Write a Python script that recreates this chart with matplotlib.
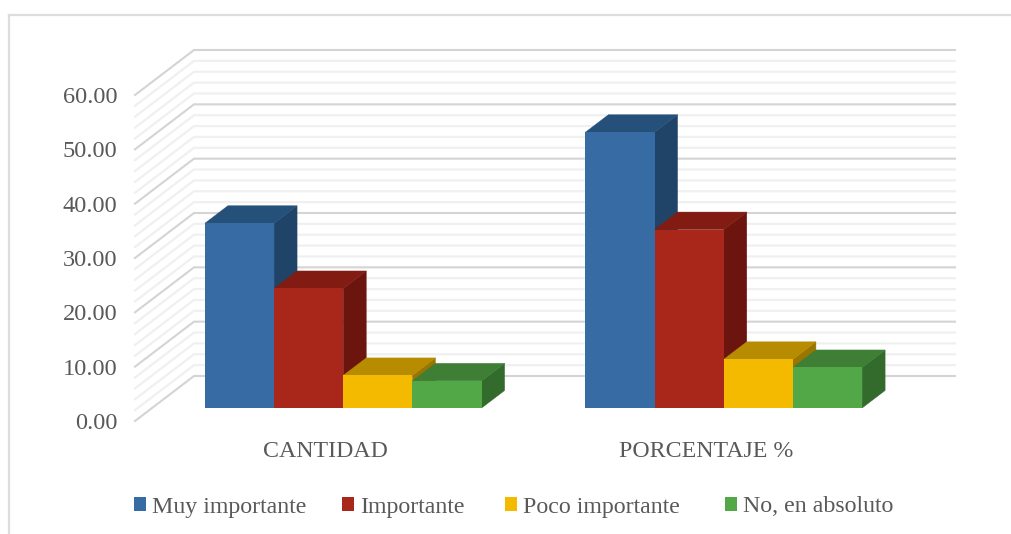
"""
Barras 3D: importancia, cantidad y porcentaje
"""
import numpy as np
import matplotlib
matplotlib.use('Agg')
import matplotlib.pyplot as plt
from matplotlib.lines import Line2D
from matplotlib.patches import Polygon
from matplotlib.transforms import Affine2D

categories = ['CANTIDAD', 'PORCENTAJE %']
series_names = ['Muy importante', 'Importante', 'Poco importante', 'No, en absoluto']
cantidad = [34, 22, 6, 5]
porcentaje = [50.75, 32.84, 8.96, 7.46]
y_ticks = [0, 10, 20, 30, 40, 50, 60]
y_minor = [2, 4, 6, 8, 12, 14, 16, 18, 22, 24, 26, 28, 32, 34, 36, 38, 42, 44, 46, 48, 52, 54, 56, 58]

front_colors = ['#366BA3', '#A9261A', '#F4BA00', '#52A846']
top_colors = ['#25507A', '#821C12', '#B88C00', '#3E7E35']
side_colors = ['#1F4468', '#6C150E', '#9A7500', '#336B2C']
text_color = '#595959'

plt.rcParams['font.family'] = ['Liberation Serif', 'DejaVu Serif']

W, H = 1011, 534
fig = plt.figure(figsize=[W / 100, H / 100], dpi=100)
ax = fig.add_axes([135 / W, (H - 421) / H, 761 / W, 326 / H])
ax.set_xlim(-0.5, 1.5)
ax.set_ylim(0, 60)

# pixels to data units, the fake depth is set in pixels
px_x = 2 / 761
px_y = 60 / 326
wall_dx, wall_dy = 59 * px_x, 45 * px_y
bar_ox, bar_oy = 18 * px_x, 13 * px_y
bar_dx, bar_dy = 23 * px_x, 17.5 * px_y

# walls
for y, color, lw in [(v, '#F0F0F0', 1.6) for v in y_minor] + [(v, '#D4D4D4', 1.5) for v in y_ticks]:
    ax.plot([-0.5, -0.5 + wall_dx, 1.5 + wall_dx], [y, y + wall_dy, y + wall_dy],
            color=color, lw=lw, clip_on=False, zorder=1, solid_joinstyle='miter')

# bars, left to right so that each one covers the side of the previous one
values = np.array([cantidad, porcentaje])
width = 1 / 5.5
shift = Affine2D().translate(bar_ox, bar_oy) + ax.transData
for c in range(len(categories)):
    for s in range(len(series_names)):
        left = c - 2 * width + s * width
        right = left + width
        v = values[c, s]
        side = Polygon([[right, 0], [right + bar_dx, bar_dy], [right + bar_dx, v + bar_dy], [right, v]],
                       facecolor=side_colors[s], edgecolor=side_colors[s], lw=0.3,
                       transform=shift, clip_on=False, zorder=2)
        top = Polygon([[left, v], [left + bar_dx, v + bar_dy], [right + bar_dx, v + bar_dy], [right, v]],
                      facecolor=top_colors[s], edgecolor=top_colors[s], lw=0.3,
                      transform=shift, clip_on=False, zorder=2)
        ax.add_patch(side)
        ax.add_patch(top)
        ax.bar(c - 1.5 * width + s * width, v, width, color=front_colors[s],
               transform=shift, clip_on=False, zorder=2)

ax.set_xlim(-0.5, 1.5)
ax.set_ylim(0, 60)
ax.set_xticks([0, 1])
ax.set_xticklabels(categories)
ax.set_yticks(y_ticks)
ax.set_yticklabels(['%.2f' % v for v in y_ticks])
ax.tick_params(axis='x', length=0, pad=14.5, labelsize=17.2, labelcolor=text_color)
ax.tick_params(axis='y', length=0, pad=12.5, labelsize=17.6, labelcolor=text_color)
for sp in ax.spines.values():
    sp.set_visible(False)

# legend entries are not evenly spaced in the original, one legend for each
legend_x = [134, 342, 505, 725]
for i, name in enumerate(series_names):
    handle = plt.Rectangle((0, 0), 1, 1, facecolor=front_colors[i])
    fig.legend([handle], [name], loc='center left', bbox_to_anchor=(legend_x[i] / W, (H - 507) / H),
               frameon=False, fontsize=17.2, labelcolor=text_color,
               handlelength=0.5, handleheight=0.5, handletextpad=0.25,
               borderpad=0, borderaxespad=0)

# outer frame, only top and left are visible
fig.add_artist(Line2D([9 / W, 9 / W], [0, (H - 15) / H], color='#DDDDDD', lw=1.6))
fig.add_artist(Line2D([9 / W, 1], [(H - 15) / H, (H - 15) / H], color='#DDDDDD', lw=1.6))

fig.savefig('out.png', dpi=100)
